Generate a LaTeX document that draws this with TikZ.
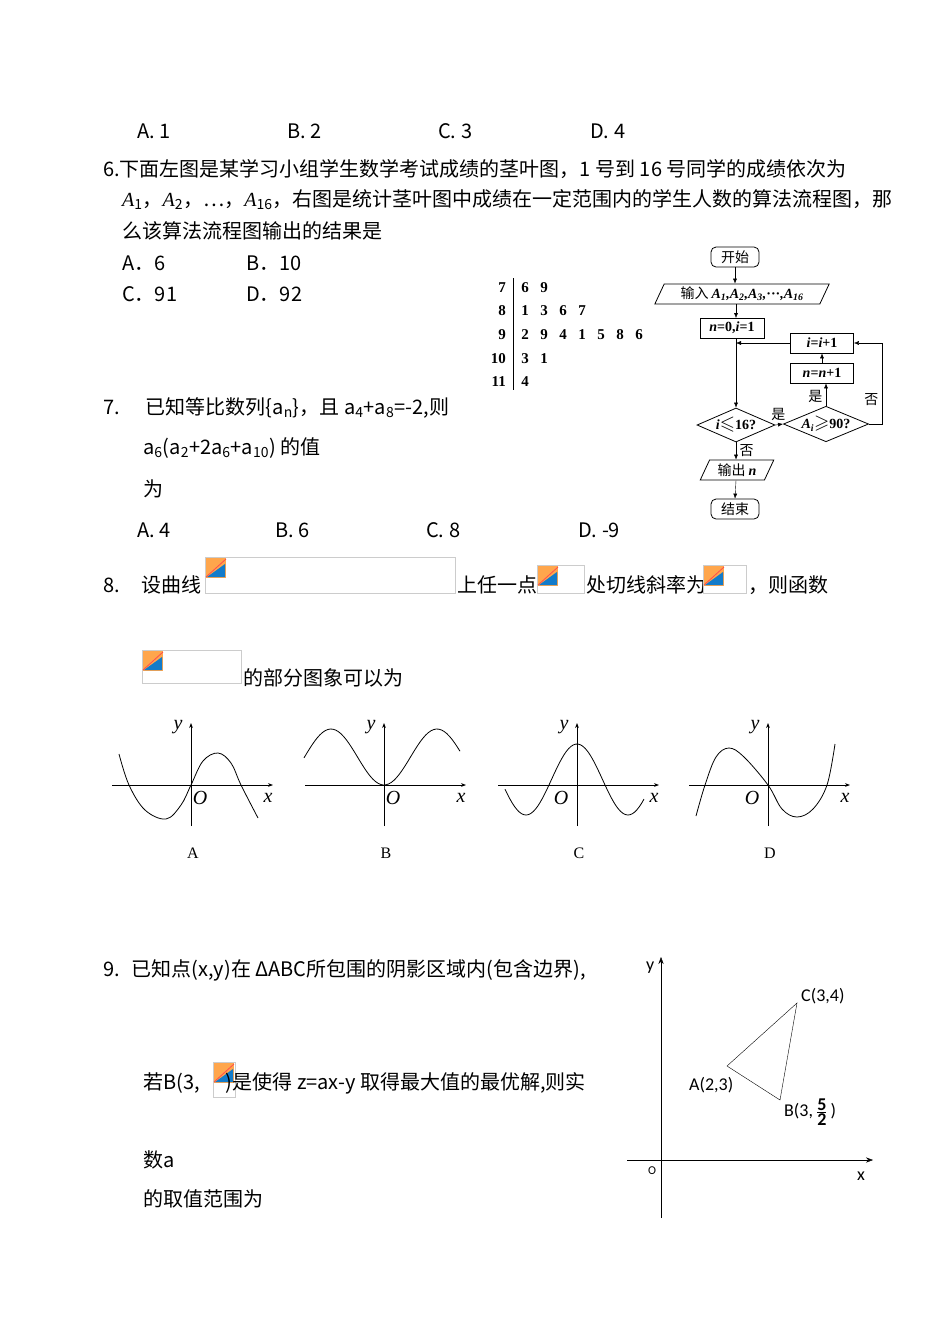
\documentclass[tikz,border=0pt]{standalone}
\usepackage{amssymb}
\usepackage{graphicx}
\usepackage{fontspec}
\setmainfont{Noto Sans CJK SC}
\newfontfamily\lat{Liberation Serif}
\newfontfamily\carl{Carlito}
\newcommand{\vi}[1]{{\lat\itshape #1}}
\usetikzlibrary{shapes.geometric,arrows.meta}
\begin{document}
\begin{tikzpicture}[x=1pt,y=-1pt,
 txt/.style={anchor=west,inner sep=0pt,font=\fontsize{20}{22}\selectfont},
 fc/.style={draw,thick,font=\fontsize{14}{16}\selectfont,inner sep=1pt},
 fbox/.style={fc,minimum height=20pt},
 dia/.style={fc,diamond,aspect=2.4,minimum width=78pt,minimum height=34pt,inner sep=0pt},
 para/.style={fc,trapezium,trapezium left angle=65,trapezium right angle=115,minimum height=20pt},
 arr/.style={-{Latex[length=5pt,width=4pt]},thin},
 ax/.style={-{Stealth[length=5pt]},thick},
 crv/.style={thick},
 imgph/.style={draw=gray!40,thin},
 sl/.style={inner sep=0pt,font=\lat\bfseries\fontsize{15}{17}\selectfont},
 gl/.style={font=\lat\itshape\fontsize{20}{22}\selectfont,inner sep=0pt},
 cl/.style={font=\carl\fontsize{18}{20}\selectfont,inner sep=0pt,anchor=west}]
\fill[white] (0,0) rectangle (950,1342);
\useasboundingbox (0,0) rectangle (950,1342);
% line answers
\node[txt] (l1a) at (137,131) {A. 1};
\node[txt] (l1b) at (287,131) {B. 2};
\node[txt] (l1c) at (438,131) {C. 3};
\node[txt] (l1d) at (590,131) {D. 4};
\node[txt] (q6a) at (103,169) {6.下面左图是某学习小组学生数学考试成绩的茎叶图，1 号到 16 号同学的成绩依次为};
\node[txt] (q6b) at (122,200) {\vi{A}\textsubscript{1}，\vi{A}\textsubscript{2}，…，\vi{A}\textsubscript{16}，右图是统计茎叶图中成绩在一定范围内的学生人数的算法流程图，那};
\node[txt] (q6c) at (122,231) {么该算法流程图输出的结果是};
\node[txt] (q6A) at (122,263) {A．6};
\node[txt] (q6B) at (246,263) {B．10};
\node[txt] (q6C) at (122,294) {C．91};
\node[txt] (q6D) at (246,294) {D．92};
% stem leaf
\draw (513,278) -- (513,390);
\foreach \s/\l/\yy in {7/{6,9}/288, 8/{1,3,6,7}/311, 9/{2,9,4,1,5,8,6}/335, 10/{3,1}/359, 11/{4}/382}{
 \node[sl,anchor=east] (st\s) at (506,\yy) {\s};
 \foreach \d [count=\k] in \l {
  \node[sl] (lf\s-\k) at ({525+(\k-1)*19},\yy) {\d};
 }
}
% flowchart
\node[fbox,rounded corners=5pt,minimum width=48pt,minimum height=20pt] (start) at (735,257) {开始};
\node[para,minimum width=150pt] (inp) at (742,294) {输入 {\lat\bfseries\itshape A\textsubscript{1},A\textsubscript{2},A\textsubscript{3},\textup{···},A\textsubscript{16}}};
\node[fbox,minimum width=64pt] (init) at (732,328) {{\lat\bfseries\itshape n}{\lat\bfseries =0,}{\lat\bfseries\itshape i}{\lat\bfseries =1}};
\node[fbox,minimum width=63pt] (inc) at (822,343) {{\lat\bfseries\itshape i}{\lat\bfseries =}{\lat\bfseries\itshape i}{\lat\bfseries +1}};
\node[fbox,minimum width=63pt] (ninc) at (822,373) {{\lat\bfseries\itshape n}{\lat\bfseries =}{\lat\bfseries\itshape n}{\lat\bfseries +1}};
\node[dia] (d1) at (736,425) {{\lat\bfseries\itshape i}\scalebox{1.4}{$\leqslant$}{\lat\bfseries 16?}};
\node[dia] (d2) at (826,424) {{\lat\bfseries\itshape A\textsubscript{i}}\scalebox{1.4}{$\geqslant$}{\lat\bfseries 90?}};
\node[para,minimum width=72pt] (out) at (737,470) {输出 {\lat\bfseries\itshape n}};
\node[fbox,rounded corners=5pt,minimum width=48pt,minimum height=20pt] (stop) at (735,509) {结束};
\draw[arr] (start) -- (start|-inp.north);
\draw[arr] (inp.south-|736,0) -- (736,318);
\draw[arr] (736,338) -- (d1.north);
\draw[arr] (inc.west) -- (736,343);
\draw[arr] (d1.east) -- node[above,font=\fontsize{14}{16}\selectfont,pos=0.4]{是} (d2.west);
\draw[arr] (d2.north) -- node[left,font=\fontsize{14}{16}\selectfont,pos=0.4]{是} (d2.north|-ninc.south);
\draw[arr] (ninc.north) -- (inc.south);
\coordinate (lpR) at (882,424);
\draw[arr] (d2.east) -- (lpR) -- node[left,font=\fontsize{14}{16}\selectfont,pos=0.3]{否} (lpR|-inc.east) -- (inc.east);
\draw[arr] (d1.south) -- node[right,font=\fontsize{14}{16}\selectfont]{否} (out.north-|d1.south);
\draw[arr] (out.south-|736,0) -- (stop.north);
% q7
\node[txt] (q7a) at (103,408) {7.\hspace{1.3em}已知等比数列\{a\textsubscript{n}\}，且 a\textsubscript{4}+a\textsubscript{8}=-2,则};
\node[txt] (q7b) at (143,448) {a\textsubscript{6}(a\textsubscript{2}+2a\textsubscript{6}+a\textsubscript{10}) 的值};
\node[txt] (q7c) at (143,489) {为};
\node[txt] (q7A) at (137,530) {A. 4};
\node[txt] (q7B) at (275,530) {B. 6};
\node[txt] (q7C) at (426,530) {C. 8};
\node[txt] (q7D) at (578,530) {D. -9};
% q8
\node[txt] (q8a) at (103,585) {8.\hspace{1.1em}设曲线};
\node[txt] (q8b) at (457,585) {上任一点};
\node[txt] (q8c) at (586,585) {处切线斜率为};
\node[txt] (q8d) at (748,585) {，则函数};
\node[txt] (q8e) at (243,678) {的部分图象可以为};
\foreach \xa/\ya/\xb/\yb in {205/557/455/593, 537/565/584/593, 703/565/746/593, 142/650/241/683, 213/1062/235/1097}{
 \draw[imgph] (\xa,\ya) rectangle (\xb,\yb);
 \fill[orange!70] (\xa+1,\ya+1) rectangle (\xa+21,\ya+21);
 \fill[cyan!60!blue] (\xa+2,\ya+20) -- (\xa+20,\ya+7) -- (\xa+20,\ya+20) -- cycle;
 \draw[red!70,thick] (\xa+1,\ya+20) -- (\xa+21,\ya+2);
}
% graphs
\foreach \ox/\lab/\od in {191/A/9,384/B/9,577/C/-16,768/D/-16}{
 \begin{scope}[shift={(\ox,785)}]
 \draw[ax] (-79,0) -- (82,0);
 \draw[ax] (0,41) -- (0,-62);
 \node[gl] at (-13,-58) {y};
 \node[gl] at (\od,13) {O};
 \node[gl] at (77,13) {x};
 \node[font=\lat\fontsize{16}{18}\selectfont] at (2,68) {\lab};
 \end{scope}
}
\begin{scope}[shift={(191,785)}]
 \draw[crv] plot[smooth,tension=0.6] coordinates {(-72,-31) (-62,0) (-46,25) (-25,34) (-10,20) (0,0) (12,-24) (27,-32) (40,-22) (50,0) (67,33)};
\end{scope}
\begin{scope}[shift={(384,785)}]
 \draw[crv,domain=-80:76,samples=60] plot (\x,{-28*(1-cos(180*\x/53))});
\end{scope}
\begin{scope}[shift={(577,785)}]
 \draw[crv,domain=-72:67,samples=60] plot (\x,{-5.5-35.5*cos(180*\x/51)});
\end{scope}
\begin{scope}[shift={(768,785)}]
 \draw[crv] plot[smooth,tension=0.6] coordinates {(-72,31) (-63,0) (-52,-28) (-39,-37) (-24,-28) (0,0) (14,24) (29,32) (45,24) (59,0) (67,-41)};
\end{scope}
% q9
\node[txt] (q9a) at (103,970) {9.\hspace{0.6em}已知点(x,y)在 ΔABC所包围的阴影区域内(包含边界),};
\node[txt] (q9b) at (143,1083) {若B(3,\hspace{26pt})是使得 z=ax-y 取得最大值的最优解,则实};
\node[txt] (q9c) at (143,1160) {数a};
\node[txt] (q9d) at (143,1199) {的取值范围为};
\draw[-{Stealth[length=7pt]}] (627,1160) -- (873,1160);
\draw[-{Stealth[length=7pt]}] (661,1218) -- (661,957);
\node[cl] (ylab) at (646,968) {y};
\node[cl,font=\carl\fontsize{12}{14}\selectfont] (olab) at (648,1171) {O};
\node[cl] (xlab) at (857,1176) {x};
\coordinate (A) at (727,1066);
\coordinate (C) at (797,1003);
\coordinate (B) at (780,1100);
\draw (A) -- (C) -- (B) -- cycle;
\node[cl] (Cl) at (801,996) {C(3,4)};
\node[cl] (Al) at (689,1085) {A(2,3)};
\node[cl] (Bl) at (784,1112) {B(3,\,$\frac{\textbf{5}}{\textbf{2}}$\,)};
\end{tikzpicture}
\end{document}
